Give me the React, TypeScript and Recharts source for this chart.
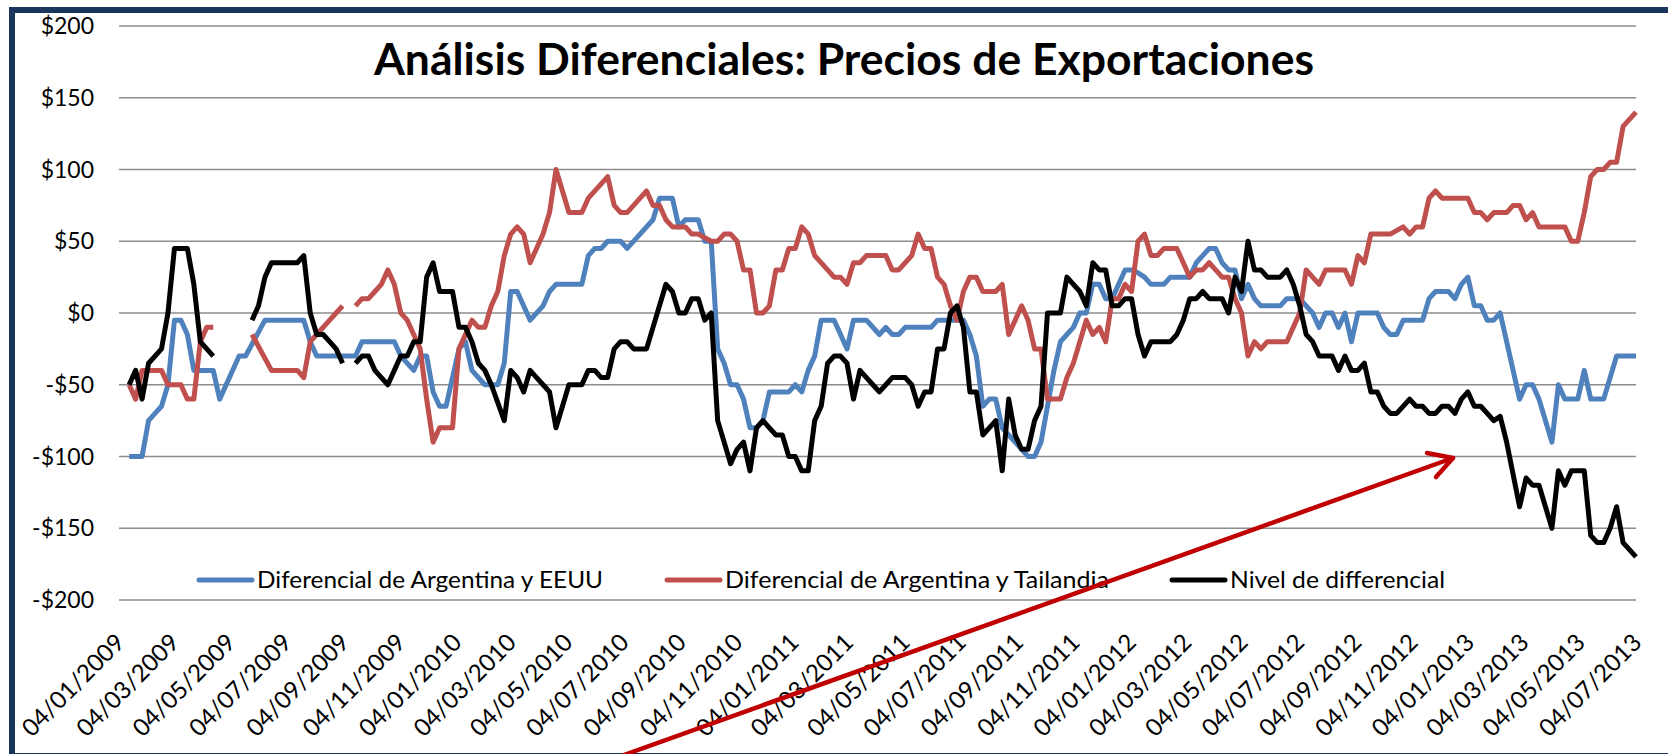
import React from 'react';
import { LineChart, Line, XAxis, YAxis, CartesianGrid, Legend } from 'recharts';

// Etiquetas del eje X (cada dos meses)
const FECHAS_EJE = [
  '04/01/2009', '04/03/2009', '04/05/2009', '04/07/2009', '04/09/2009', '04/11/2009',
  '04/01/2010', '04/03/2010', '04/05/2010', '04/07/2010', '04/09/2010', '04/11/2010',
  '04/01/2011', '04/03/2011', '04/05/2011', '04/07/2011', '04/09/2011', '04/11/2011',
  '04/01/2012', '04/03/2012', '04/05/2012', '04/07/2012', '04/09/2012', '04/11/2012',
  '04/01/2013', '04/03/2013', '04/05/2013', '04/07/2013',
];
const PRIMER_DATO = '15/01/2009'; // primera semana con datos (jueves)
const VALORES_Y = [-200, -150, -100, -50, 0, 50, 100, 150, 200];

// [semana, valor]  (null = sin dato)
const difEEUU: [number, number | null][] = [
  [0, -100], [2, -100], [3, -75], [4, -70], [5, -65], [6, -50], [7, -5], [8, -5], [9, -15], [10, -40],
  [13, -40], [14, -60], [17, -30], [18, -30], [21, -5], [27, -5], [28, -20], [29, -30], [35, -30], [36, -20],
  [41, -20], [42, -30], [44, -40], [45, -30], [46, -30], [47, -55], [48, -65], [49, -65], [51, -25], [52, -20],
  [53, -40], [55, -50], [57, -50], [58, -35], [59, 15], [60, 15], [62, -5], [64, 5], [65, 15], [66, 20],
  [70, 20], [71, 40], [72, 45], [73, 45], [74, 50], [76, 50], [77, 45], [79, 55], [80, 60], [81, 65],
  [82, 80], [84, 80], [85, 60], [86, 65], [88, 65], [89, 50], [90, 50], [91, -25], [92, -35], [93, -50],
  [94, -50], [95, -60], [96, -80], [97, -80], [98, -75], [99, -55], [102, -55], [103, -50], [104, -55], [105, -40],
  [106, -30], [107, -5], [109, -5], [110, -15], [111, -25], [112, -5], [114, -5], [116, -15], [117, -10], [118, -15],
  [119, -15], [120, -10], [124, -10], [125, -5], [129, -5], [130, -15], [131, -30], [132, -65], [133, -60], [134, -60],
  [135, -80], [136, -85], [137, -90], [138, -95], [139, -100], [140, -100], [141, -90], [142, -65], [143, -40], [144, -20],
  [145, -15], [146, -10], [147, 0], [148, 0], [149, 20], [150, 20], [151, 10], [152, 10], [153, 20], [154, 30],
  [155, 30], [156, 28], [157, 25], [158, 20], [160, 20], [161, 25], [164, 25], [165, 35], [166, 40], [167, 45],
  [168, 45], [169, 35], [170, 30], [171, 30], [172, 10], [173, 20], [174, 10], [175, 5], [178, 5], [179, 10],
  [181, 10], [182, 5], [183, 0], [184, -10], [185, 0], [186, 0], [187, -10], [188, 0], [189, -20], [190, 0],
  [193, 0], [194, -10], [195, -15], [196, -15], [197, -5], [200, -5], [201, 10], [202, 15], [204, 15], [205, 10],
  [206, 20], [207, 25], [208, 5], [209, 5], [210, -5], [211, -5], [212, 0], [215, -60], [216, -50], [217, -50],
  [218, -60], [220, -90], [221, -50], [222, -60], [224, -60], [225, -40], [226, -60], [228, -60], [230, -30], [233, -30],
];

const difTailandia: [number, number | null][] = [
  [0, -50], [1, -60], [2, -40], [5, -40], [6, -50], [8, -50], [9, -60], [10, -60], [11, -20], [12, -10],
  [13, -10], [16, null], [19, -15], [22, -40], [26, -40], [27, -45], [28, -20], [29, -15], [31, -5], [32, 0],
  [33, 5], [34, null], [35, 5], [36, 10], [37, 10], [38, 15], [39, 20], [40, 30], [41, 20], [42, 0],
  [43, -5], [44, -15], [45, -25], [46, -60], [47, -90], [48, -80], [50, -80], [51, -25], [52, -15], [53, -5],
  [54, -10], [55, -10], [56, 5], [57, 15], [58, 40], [59, 55], [60, 60], [61, 55], [62, 35], [64, 55],
  [65, 70], [66, 100], [68, 70], [70, 70], [71, 80], [74, 95], [75, 75], [76, 70], [77, 70], [78, 75],
  [79, 80], [80, 85], [81, 75], [82, 75], [83, 65], [84, 60], [86, 60], [87, 55], [88, 55], [90, 50],
  [91, 50], [92, 55], [93, 55], [94, 50], [95, 30], [96, 30], [97, 0], [98, 0], [99, 5], [100, 30],
  [101, 30], [102, 45], [103, 45], [104, 60], [105, 55], [106, 40], [108, 30], [109, 25], [110, 25], [111, 20],
  [112, 35], [113, 35], [114, 40], [117, 40], [118, 30], [119, 30], [121, 40], [122, 55], [123, 45], [124, 45],
  [125, 25], [126, 20], [127, 5], [128, -5], [129, 15], [130, 25], [131, 25], [132, 15], [134, 15], [135, 20],
  [136, -15], [138, 5], [139, -5], [140, -25], [141, -25], [142, -60], [144, -60], [145, -45], [146, -35], [147, -20],
  [148, -5], [149, -15], [150, -10], [151, -20], [152, 10], [153, 10], [154, 20], [155, 15], [156, 50], [157, 55],
  [158, 40], [159, 40], [160, 45], [162, 45], [163, 35], [164, 25], [165, 30], [166, 30], [167, 35], [168, 30],
  [169, 25], [170, 25], [171, 10], [172, 0], [173, -30], [174, -20], [175, -25], [176, -20], [179, -20], [180, -10],
  [181, 0], [182, 30], [184, 20], [185, 30], [188, 30], [189, 20], [190, 40], [191, 35], [192, 55], [195, 55],
  [197, 60], [198, 55], [199, 60], [200, 60], [201, 80], [202, 85], [203, 80], [207, 80], [208, 70], [209, 70],
  [210, 65], [211, 70], [213, 70], [214, 75], [215, 75], [216, 65], [217, 70], [218, 60], [222, 60], [223, 50],
  [224, 50], [225, 70], [226, 95], [227, 100], [228, 100], [229, 105], [230, 105], [231, 130], [233, 140],
];

const nivelDif: [number, number | null][] = [
  [0, -50], [1, -40], [2, -60], [3, -35], [4, -30], [5, -25], [6, 0], [7, 45], [9, 45], [10, 20],
  [11, -20], [12, -25], [13, -30], [16, null], [19, -5], [20, 5], [21, 25], [22, 35], [26, 35], [27, 40],
  [28, 0], [29, -15], [30, -15], [31, -20], [32, -25], [33, -35], [34, null], [35, -35], [36, -30], [37, -30],
  [38, -40], [39, -45], [40, -50], [41, -40], [42, -30], [43, -30], [44, -20], [45, -20], [46, 25], [47, 35],
  [48, 15], [50, 15], [51, -10], [52, -10], [53, -20], [54, -35], [55, -40], [56, -50], [58, -75], [59, -40],
  [60, -45], [61, -55], [62, -40], [63, -45], [64, -50], [65, -55], [66, -80], [67, -65], [68, -50], [70, -50],
  [71, -40], [72, -40], [73, -45], [74, -45], [75, -25], [76, -20], [77, -20], [78, -25], [80, -25], [81, -10],
  [82, 5], [83, 20], [84, 15], [85, 0], [86, 0], [87, 10], [88, 10], [89, -5], [90, 0], [91, -75],
  [92, -90], [93, -105], [94, -95], [95, -90], [96, -110], [97, -80], [98, -75], [99, -80], [100, -85], [101, -85],
  [102, -100], [103, -100], [104, -110], [105, -110], [106, -75], [107, -65], [108, -35], [109, -30], [110, -30], [111, -35],
  [112, -60], [113, -40], [114, -45], [115, -50], [116, -55], [117, -50], [118, -45], [120, -45], [121, -50], [122, -65],
  [123, -55], [124, -55], [125, -25], [126, -25], [127, 0], [128, 5], [129, -10], [130, -55], [131, -55], [132, -85],
  [133, -80], [134, -75], [135, -110], [136, -60], [137, -85], [138, -95], [139, -95], [140, -75], [141, -65], [142, 0],
  [144, 0], [145, 25], [147, 15], [148, 5], [149, 35], [150, 30], [151, 30], [152, 5], [153, 5], [154, 10],
  [155, 10], [156, -15], [157, -30], [158, -20], [161, -20], [162, -15], [163, -5], [164, 10], [165, 10], [166, 15],
  [167, 10], [169, 10], [170, 0], [171, 25], [172, 15], [173, 50], [174, 30], [175, 30], [176, 25], [178, 25],
  [179, 30], [180, 20], [181, 5], [182, -15], [183, -20], [184, -30], [186, -30], [187, -40], [188, -30], [189, -40],
  [190, -40], [191, -35], [192, -55], [193, -55], [194, -65], [195, -70], [196, -70], [198, -60], [199, -65], [200, -65],
  [201, -70], [202, -70], [203, -65], [204, -65], [205, -70], [206, -60], [207, -55], [208, -65], [209, -65], [210, -70],
  [211, -75], [212, -72], [213, -90], [215, -135], [216, -115], [217, -120], [218, -120], [219, -135], [220, -150], [221, -110],
  [222, -120], [223, -110], [225, -110], [226, -155], [227, -160], [228, -160], [229, -150], [230, -135], [231, -160], [233, -170],
];

const FUENTE = 'Lato, "Open Sans", sans-serif';

function diaDesdeInicio(fecha: string) {
  const [d, m, a] = fecha.split('/').map(Number);
  return Math.round((Date.UTC(a, m - 1, d) - Date.UTC(2009, 0, 4)) / 86400000);
}

const TICKS_X = FECHAS_EJE.map(diaDesdeInicio);
const DIA_FINAL = TICKS_X[TICKS_X.length - 1];
const DIA_PRIMERO = diaDesdeInicio(PRIMER_DATO);

const aPuntos = (serie: [number, number | null][]) =>
  serie.map(([semana, v]) => ({ dia: DIA_PRIMERO + semana * 7, v }));

const SERIES = [
  { nombre: 'Diferencial de Argentina y EEUU', color: '#4F81BD', datos: aPuntos(difEEUU) },
  { nombre: 'Diferencial de Argentina y Tailandia', color: '#C0504D', datos: aPuntos(difTailandia) },
  { nombre: 'Nivel de differencial', color: '#000000', datos: aPuntos(nivelDif) },
];

const fechaPorDia = (dia: number) => FECHAS_EJE[TICKS_X.indexOf(dia)] ?? '';
const formatoDolar = (v: number) => (v < 0 ? '-$' : '$') + Math.abs(v);

function EtiquetaFecha(props: any) {
  const { x, y, payload } = props;
  const ax = x + 7;
  const ay = y + 44;
  return (
    <text
      x={ax}
      y={ay}
      transform={`rotate(-45, ${ax}, ${ay})`}
      textAnchor="end"
      fontSize={24}
      fontFamily={FUENTE}
      fill="#000"
    >
      {fechaPorDia(payload.value)}
    </text>
  );
}

// posiciones de la leyenda
const LEY_X = [199, 667, 1172];
const LEY_ANCHO = [346, 384, 215];

function Leyenda() {
  return (
    <svg width={1668} height={40}>
      {SERIES.map((s, i) => (
        <g key={s.nombre}>
          <line x1={LEY_X[i]} x2={LEY_X[i] + 53} y1={20} y2={20} stroke={s.color} strokeWidth={5} strokeLinecap="round" />
          <text
            x={LEY_X[i] + 58}
            y={28}
            fontSize={23}
            fontFamily={FUENTE}
            fill="#000"
            textLength={LEY_ANCHO[i]}
            lengthAdjust="spacingAndGlyphs"
          >
            {s.nombre}
          </text>
        </g>
      ))}
    </svg>
  );
}

export default function App() {
  return (
    <div style={{ position: 'absolute', left: 0, top: 0, width: 1668, height: 754, overflow: 'hidden', background: '#fff' }}>
      <div
        style={{
          position: 'absolute', left: 9, top: 7, width: 1720, height: 752,
          boxSizing: 'border-box', border: '6px solid #1B365D',
        }}
      />
      <div style={{ position: 'absolute', left: 0, top: 0 }}>
        <LineChart width={1668} height={754} margin={{ top: 26, right: 32, left: 0, bottom: 0 }}>
          <CartesianGrid vertical={false} stroke="#8C8C8C" strokeWidth={1.6} />
          <XAxis
            type="number"
            dataKey="dia"
            domain={[0, DIA_FINAL]}
            ticks={TICKS_X}
            interval={0}
            height={154}
            axisLine={false}
            tickLine={false}
            tickSize={0}
            tickMargin={0}
            tick={(p: any) => <EtiquetaFecha {...p} />}
          />
          <YAxis
            type="number"
            domain={[-200, 200]}
            ticks={VALORES_Y}
            width={119}
            axisLine={false}
            tickLine={false}
            tickSize={0}
            tickMargin={25}
            tickFormatter={formatoDolar}
            tick={{ fill: '#000', fontSize: 23, fontFamily: FUENTE }}
          />
          <Legend
            layout="horizontal"
            verticalAlign="middle"
            align="center"
            content={() => <Leyenda />}
            wrapperStyle={{ left: 0, top: 560, width: 1668, height: 40 }}
          />
          {SERIES.map((s) => (
            <Line
              key={s.nombre}
              data={s.datos}
              dataKey="v"
              name={s.nombre}
              type="linear"
              stroke={s.color}
              strokeWidth={5}
              strokeLinejoin="round"
              dot={false}
              activeDot={false}
              connectNulls={false}
              isAnimationActive={false}
            />
          ))}
        </LineChart>
      </div>
      <svg width={1668} height={754} style={{ position: 'absolute', left: 0, top: 0, pointerEvents: 'none' }}>
        <text
          x={374}
          y={75}
          fontSize={43}
          fontWeight={700}
          fontFamily={FUENTE}
          fill="#000"
          textLength={940}
          lengthAdjust="spacingAndGlyphs"
        >
          Análisis Diferenciales: Precios de Exportaciones
        </text>
        <g stroke="#C00000" strokeWidth={4.5} strokeLinecap="round" fill="none">
          <line x1={621} y1={756} x2={1453} y2={458} />
          <polyline points="1427,453 1453,458 1436,477" strokeLinejoin="round" />
        </g>
      </svg>
    </div>
  );
}
